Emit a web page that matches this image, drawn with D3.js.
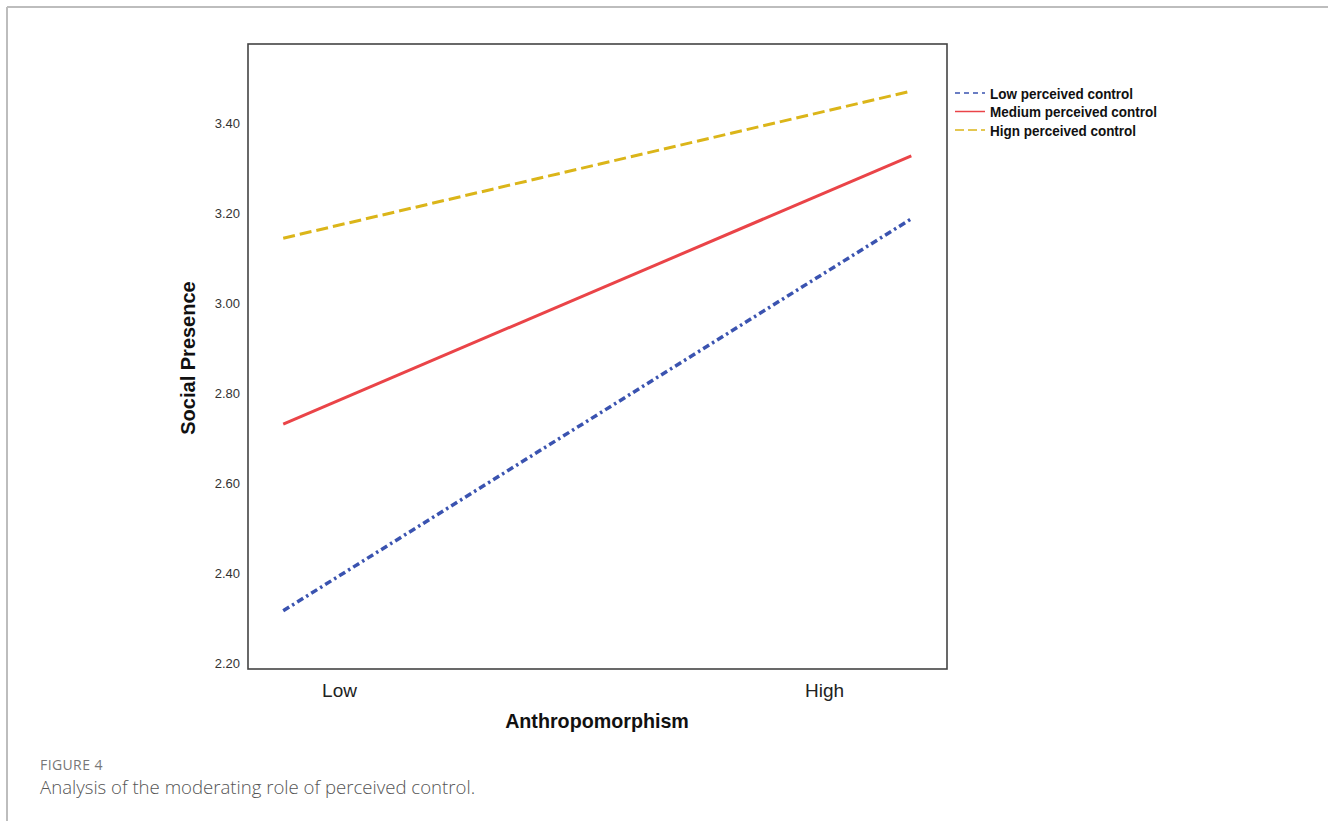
<!DOCTYPE html>
<html>
<head>
<meta charset="utf-8">
<script src="https://cdn.jsdelivr.net/npm/d3@7"></script>
<style>
  body { margin: 0; background: #fff; }
  svg { display: block; }
</style>
</head>
<body>
<svg id="chart" width="1328" height="821"></svg>
<script>
// categories on the x axis (0 = Low, 1 = High)
const categories = ["Low", "High"];
const categoryPos = [0, 1];
// fitted lines run a bit beyond the category positions
const lineX = [-0.115, 1.18];

const seriesNames = ["Low perceived control", "Medium perceived control", "Hign perceived control"];
const lowValues = [2.316, 3.187];
const mediumValues = [2.731, 3.327];
const highValues = [3.144, 3.471];

const yTicks = [2.20, 2.40, 2.60, 2.80, 3.00, 3.20, 3.40];

const svg = d3.select("#chart");

// page frame
svg.append("line").attr("x1", 7).attr("y1", 7).attr("x2", 1328).attr("y2", 7)
  .attr("stroke", "#bdbdbd").attr("stroke-width", 2);
svg.append("line").attr("x1", 7).attr("y1", 7).attr("x2", 7).attr("y2", 821)
  .attr("stroke", "#bdbdbd").attr("stroke-width", 2);

const box = { left: 248, right: 947, top: 44, bottom: 669 };

const x = d3.scaleLinear().domain([0, 1]).range([339, 824]);
const y = d3.scaleLinear().domain([2.2, 3.4]).range([663, 123]);

// y tick labels
const yAxis = d3.axisLeft(y).tickValues(yTicks).tickFormat(d3.format(".2f")).tickSize(0).tickPadding(8);
const gy = svg.append("g").attr("transform", `translate(${box.left},0)`).call(yAxis);
gy.select(".domain").remove();
gy.selectAll("text").attr("font-family", "Liberation Sans, Arial, sans-serif")
  .attr("font-size", 13).attr("fill", "#333");

// x tick labels
const xAxis = d3.axisBottom(x).tickValues(categoryPos).tickFormat((d, i) => categories[i]).tickSize(0).tickPadding(15);
const gx = svg.append("g").attr("transform", `translate(0,${box.bottom})`).call(xAxis);
gx.select(".domain").remove();
gx.selectAll("text").attr("font-family", "Liberation Sans, Arial, sans-serif")
  .attr("font-size", 19).attr("fill", "#222");

// plot frame
svg.append("rect")
  .attr("x", box.left).attr("y", box.top)
  .attr("width", box.right - box.left).attr("height", box.bottom - box.top)
  .attr("fill", "none").attr("stroke", "#444").attr("stroke-width", 1.6);

const series = [
  { name: seriesNames[0], values: lowValues, color: "#3a53b0", dash: "7,3.5,2.5,3.5", width: 3.5 },
  { name: seriesNames[1], values: mediumValues, color: "#ea4448", dash: null, width: 3 },
  { name: seriesNames[2], values: highValues, color: "#dbb519", dash: "12,5", width: 3 }
];

const line = d3.line().x(d => x(d[0])).y(d => y(d[1]));

svg.selectAll(".series")
  .data(series)
  .enter()
  .append("path")
  .attr("class", "series")
  .attr("d", s => line(lineX.map((v, i) => [v, s.values[i]])))
  .attr("fill", "none")
  .attr("stroke", s => s.color)
  .attr("stroke-width", s => s.width)
  .attr("stroke-dasharray", s => s.dash);

// legend (narrow bold text, squeezed horizontally)
const legend = svg.append("g").attr("transform", "translate(955,93)");
series.forEach((s, i) => {
  const row = legend.append("g").attr("transform", `translate(0,${i * 18.5})`);
  row.append("line").attr("x1", 0).attr("x2", 30).attr("y1", 0).attr("y2", 0)
    .attr("stroke", s.color).attr("stroke-width", 1.5)
    .attr("stroke-dasharray", i === 0 ? "5,4" : i === 2 ? "9,4" : null);
  row.append("text")
    .attr("transform", "translate(35,5.5) scale(0.9,1)")
    .attr("font-family", "Liberation Sans, Arial, sans-serif")
    .attr("font-weight", "bold").attr("font-size", 15).attr("fill", "#111")
    .text(s.name);
});

// axis titles
svg.append("text")
  .attr("transform", "translate(195,358) rotate(-90)")
  .attr("text-anchor", "middle")
  .attr("font-family", "Liberation Sans, Arial, sans-serif")
  .attr("font-weight", "bold").attr("font-size", 20).attr("fill", "#111")
  .text("Social Presence");

svg.append("text")
  .attr("x", 597).attr("y", 728)
  .attr("text-anchor", "middle")
  .attr("font-family", "Liberation Sans, Arial, sans-serif")
  .attr("font-weight", "bold").attr("font-size", 19.7).attr("fill", "#111")
  .text("Anthropomorphism");

// caption
svg.append("text")
  .attr("x", 40).attr("y", 770)
  .attr("font-family", "Open Sans, sans-serif")
  .attr("font-size", 14).attr("fill", "#777").attr("letter-spacing", 0.4)
  .text("FIGURE 4");

svg.append("text")
  .attr("x", 40).attr("y", 794)
  .attr("font-family", "Open Sans, sans-serif")
  .attr("font-size", 18.6).attr("font-weight", 300).attr("fill", "#555")
  .text("Analysis of the moderating role of perceived control.");
</script>
</body>
</html>
